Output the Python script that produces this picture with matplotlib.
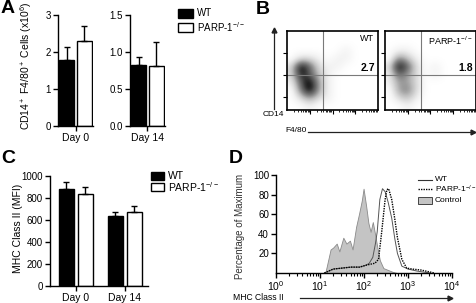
import matplotlib
matplotlib.use("Agg")
import matplotlib.pyplot as plt
import numpy as np
from matplotlib.patches import Rectangle

plt.rcParams["font.family"] = ["Liberation Sans", "DejaVu Sans"]
plt.rcParams["mathtext.fontset"] = "custom"
plt.rcParams["mathtext.rm"] = "Liberation Sans"
plt.rcParams["mathtext.it"] = "Liberation Sans:italic"
plt.rcParams["mathtext.bf"] = "Liberation Sans:bold"

KO = "PARP-1$^{-/-}$"

# panel A: CD14+ F4/80+ cells (x10^6), mean and upper SEM
a_groups = ["Day 0", "Day 14"]
a_wt = [1.78, 0.82]
a_wt_err = [0.36, 0.11]
a_ko = [2.30, 0.81]
a_ko_err = [0.40, 0.33]
a_ylims = [3, 1.5]
a_yticks = [[0, 1, 2, 3], [0.0, 0.5, 1.0, 1.5]]
a_yticklabels = [["0", "1", "2", "3"], ["0.0", "0.5", "1.0", "1.5"]]

# panel C: MHC class II (MFI)
c_groups = ["Day 0", "Day 14"]
c_wt = [885, 636]
c_wt_err = [60, 34]
c_ko = [840, 676]
c_ko_err = [60, 50]

# panel B: dot plot density, estimated on a 10x10 grid (rows top -> bottom)
b_wt_density = [
    [0, 0, 0, 0, 0, 0, 0, 0, 0, 0],
    [0, 0, 0, 0, 0, 0, 0, 0, 0, 0],
    [0, 0, 0, 0, 0, 0, 1, 0, 0, 0],
    [0, 2, 2, 1, 0, 1, 1, 0, 0, 0],
    [2, 9, 6, 2, 1, 1, 0, 0, 0, 0],
    [2, 8, 6, 3, 1, 0, 0, 0, 0, 0],
    [1, 6, 9, 4, 1, 0, 0, 0, 0, 0],
    [0, 5, 9, 4, 1, 0, 0, 0, 0, 0],
    [0, 2, 4, 2, 1, 0, 0, 0, 0, 0],
    [0, 0, 1, 0, 0, 0, 0, 0, 0, 0],
]
b_ko_density = [
    [0, 0, 0, 0, 0, 0, 0, 0, 0, 0],
    [0, 0, 0, 0, 0, 0, 0, 0, 0, 0],
    [0, 1, 1, 0, 0, 0, 0, 0, 0, 0],
    [0, 5, 3, 1, 0, 0, 0, 0, 0, 0],
    [2, 9, 6, 2, 0, 1, 0, 0, 0, 0],
    [1, 6, 4, 2, 0, 1, 0, 0, 0, 0],
    [1, 4, 4, 2, 0, 0, 0, 0, 0, 0],
    [0, 4, 5, 2, 0, 0, 0, 0, 0, 0],
    [0, 2, 3, 1, 0, 0, 0, 0, 0, 0],
    [0, 0, 1, 0, 0, 0, 0, 0, 0, 0],
]
b_labels = ["WT", KO]
b_pcts = ["2.7", "1.8"]
b_gate_x = 0.40
b_gate_y = 0.44

# panel D: histograms, log10(MHC class II) vs percentage of maximum
d_ctrl_log = [1.12, 1.18, 1.24, 1.30, 1.38, 1.44, 1.53, 1.60, 1.68, 1.74, 1.82, 1.89,
              1.95, 1.99, 2.05, 2.10, 2.15, 2.20, 2.25, 2.30, 2.36, 2.44, 2.55, 2.66, 2.75]
d_ctrl_pct = [0, 12, 24, 26, 30, 22, 36, 30, 33, 24, 47, 61,
              74, 86, 68, 51, 42, 52, 40, 27, 13, 5, 3, 1, 0]
d_wt_log = [1.10, 1.30, 1.50, 1.70, 1.90, 2.05, 2.12, 2.20, 2.26, 2.30, 2.36, 2.42,
            2.48, 2.55, 2.63, 2.70, 2.76, 2.86, 3.00, 3.20, 3.50]
d_wt_pct = [0, 4, 5, 6, 6, 8, 10, 16, 30, 42, 75, 86,
            83, 72, 56, 35, 20, 7, 4, 2, 0]
d_ko_log = [1.10, 1.30, 1.50, 1.70, 1.90, 2.05, 2.15, 2.25, 2.33, 2.40, 2.48, 2.52,
            2.56, 2.63, 2.70, 2.76, 2.86, 2.97, 3.10, 3.30, 3.60]
d_ko_pct = [0, 4, 5, 6, 6, 8, 9, 10, 14, 41, 75, 85,
            86, 75, 55, 36, 14, 5, 4, 3, 0]

W, H = 477, 303
fig = plt.figure(figsize=(W / 100, H / 100), dpi=100)


def box(l, t, r, b):
    return [l / W, 1 - b / H, (r - l) / W, (b - t) / H]


def style_axes(ax):
    for s in ("top", "right"):
        ax.spines[s].set_visible(False)
    for s in ("left", "bottom"):
        ax.spines[s].set_linewidth(1.0)
    ax.tick_params(direction="out", length=3.5, width=1.0, labelsize=7, pad=1.5)


def bars(ax, x, wt, wt_err, ko, ko_err, width, offset):
    xs = np.asarray(x, dtype=float)
    ax.bar(xs - offset, wt, width, color="black", edgecolor="black", lw=1.0)
    ax.bar(xs + offset, ko, width, color="white", edgecolor="black", lw=1.0)
    ax.errorbar(xs - offset, wt, yerr=[np.zeros(len(xs)), wt_err], fmt="none",
                ecolor="black", elinewidth=1.0, capsize=2.5, capthick=1.0)
    ax.errorbar(xs + offset, ko, yerr=[np.zeros(len(xs)), ko_err], fmt="none",
                ecolor="black", elinewidth=1.0, capsize=2.5, capthick=1.0)


# ---- panel A
a_boxes = [(58, 15, 93, 126), (130, 15, 165, 126)]
for i, grp in enumerate(a_groups):
    ax = fig.add_axes(box(*a_boxes[i]))
    style_axes(ax)
    bars(ax, [0.5], [a_wt[i]], [a_wt_err[i]], [a_ko[i]], [a_ko_err[i]], 0.86, 0.5)
    ax.set_xlim(-0.5, 1.5)
    ax.set_ylim(0, a_ylims[i])
    ax.set_yticks(a_yticks[i])
    ax.set_yticklabels(a_yticklabels[i])
    ax.set_xticks([0.5])
    ax.set_xticklabels([grp], fontsize=7.5)

# ---- panel C
ax = fig.add_axes(box(50, 176, 148, 286))
style_axes(ax)
bars(ax, np.arange(len(c_groups)), c_wt, c_wt_err, c_ko, c_ko_err, 0.306, 0.194)
ax.set_xlim(-0.53, 1.47)
ax.set_ylim(0, 1000)
ax.set_yticks(range(0, 1001, 200))
ax.set_xticks(np.arange(len(c_groups)))
ax.set_xticklabels(c_groups, fontsize=7.5)

# ---- panel B
minor = [(d + np.log10(k)) / 4 for d in range(4) for k in range(2, 10)]
for i, (dens, lab, pct) in enumerate(zip([b_wt_density, b_ko_density], b_labels, b_pcts)):
    ax = fig.add_axes(box(287 + 98 * i, 31, 378 + 98 * i, 110))
    ax.imshow(np.array(dens, dtype=float), extent=(0, 1, 0, 1), cmap="Greys", vmin=0, vmax=8.5,
              interpolation="bicubic", aspect="auto")
    ax.axvline(b_gate_x, color="#7a7a7a", lw=0.8)
    ax.axhline(b_gate_y, color="#7a7a7a", lw=0.8)
    ax.set_xlim(0, 1)
    ax.set_ylim(0, 1)
    for s in ax.spines.values():
        s.set_linewidth(1.2)
    ax.set_xticks([0.25, 0.5, 0.75])
    ax.set_xticks(minor, minor=True)
    ax.set_yticks([0.16, 0.44, 0.72])
    ax.tick_params(which="major", direction="out", length=3, width=0.8, labelbottom=False, labelleft=False)
    ax.tick_params(which="minor", direction="out", length=1.5, width=0.6)
    ax.text(0.96, 0.96, lab, transform=ax.transAxes, ha="right", va="top", fontsize=6.5)
    ax.text(0.97, b_gate_y + 0.03, pct, transform=ax.transAxes, ha="right", va="bottom",
            fontsize=7.5, fontweight="bold")

# ---- panel D
ax = fig.add_axes(box(276, 175, 452, 273))
style_axes(ax)
ax.fill_between(10 ** np.array(d_ctrl_log), d_ctrl_pct, color="#c4c4c4",
                edgecolor="#8a8a8a", lw=0.6)
ax.plot(10 ** np.array(d_wt_log), d_wt_pct, color="#555555", lw=0.7)
ax.plot(10 ** np.array(d_ko_log), d_ko_pct, color="black", lw=1.0, ls=(0, (1, 0.8)))
ax.set_xscale("log")
ax.set_xlim(1, 1e4)
ax.set_ylim(0, 100)
ax.set_yticks([20, 40, 60, 80, 100])
ax.set_xticks([1, 10, 100, 1000, 10000])
ax.tick_params(axis="x", which="minor", direction="out", length=2, width=0.8)
ax.tick_params(axis="x", labelsize=7.5, pad=1)

# ---- overlay in pixel coordinates for labels, legends and axis arrows
ov = fig.add_axes([0, 0, 1, 1], zorder=10)
ov.set_xlim(0, W)
ov.set_ylim(H, 0)
ov.axis("off")
ov.patch.set_alpha(0)


def arrow(x0, y0, x1, y1, head):
    ov.plot([x0, x1], [y0, y1], color="#222222", lw=0.9, clip_on=False)
    ov.plot([x1], [y1], marker=head, markersize=3.5, color="#222222", lw=0, clip_on=False)


def legend_boxes(x, y1, y2, w, h, size):
    ov.add_patch(Rectangle((x, y1 - h / 2), w, h, facecolor="black", edgecolor="black", lw=1.0))
    ov.add_patch(Rectangle((x, y2 - h / 2), w, h, facecolor="white", edgecolor="black", lw=1.0))
    ov.text(x + w + 4, y1, "WT", fontsize=size, va="center")
    ov.text(x + w + 4, y2, KO, fontsize=size, va="center")


ov.text(26, 66, "CD14$^+$ F4/80$^+$ Cells (x10$^6$)", rotation=90,
        ha="center", va="center", fontsize=7.5)
legend_boxes(178, 13.5, 27, 15, 9, 7)

ov.text(18, 228, "MHC Class II (MFI)", rotation=90, ha="center", va="center", fontsize=7.5)
legend_boxes(151, 176, 187, 13, 8, 7.5)

arrow(274.5, 109, 274.5, 30, "^")
ov.text(273, 114, "CD14", ha="center", va="center", fontsize=6)
arrow(308, 131.5, 473, 131.5, ">")
ov.text(285, 131, "F4/80", ha="left", va="center", fontsize=6)

ov.text(240, 226, "Percentage of Maximum", rotation=90, ha="center", va="center",
        fontsize=7, color="#333333")
ov.text(233, 297.5, "MHC Class II", ha="left", va="center", fontsize=6.2)
arrow(300, 297.5, 450, 297.5, ">")

ov.plot([418, 432], [180, 180], color="#333333", lw=0.8)
ov.plot([418, 432], [189, 189], color="black", lw=1.0, ls=(0, (1, 0.8)))
ov.add_patch(Rectangle((418, 197), 14, 7, facecolor="#c4c4c4", edgecolor="#444444", lw=0.7))
ov.text(435, 179.5, "WT", fontsize=6, va="center")
ov.text(435, 189, KO, fontsize=6, va="center")
ov.text(435, 200.5, "Control", fontsize=6, va="center")

# panel letters
for letter, (x, y) in zip("ABCD", [(1, 0), (256, 1), (1, 150), (229, 150)]):
    ov.text(x, y, letter, fontsize=14, fontweight="bold", ha="left", va="top")

fig.savefig("out.png", dpi=100)
